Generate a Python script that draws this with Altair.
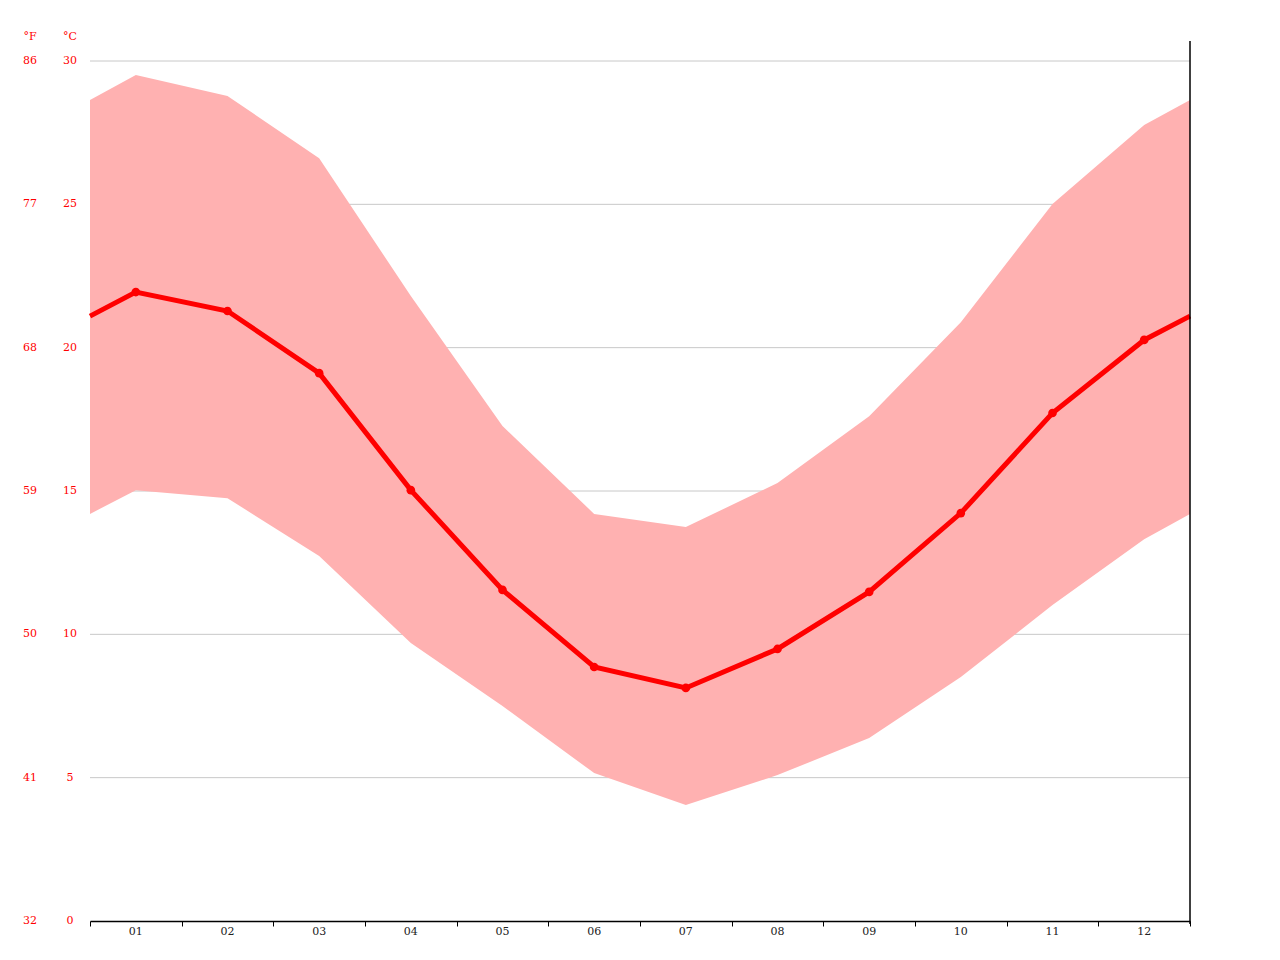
import altair as alt
import pandas as pd

months = list(range(1, 13))
month_labels = ["01", "02", "03", "04", "05", "06", "07", "08", "09", "10", "11", "12"]
t_mean = [21.94, 21.28, 19.11, 15.03, 11.55, 8.86, 8.13, 9.49, 11.48, 14.23, 17.72, 20.27]
t_max = [29.51, 28.78, 26.61, 21.80, 17.27, 14.20, 13.74, 15.28, 17.61, 20.89, 25.01, 27.77]
t_min = [15.03, 14.75, 12.73, 9.70, 7.50, 5.16, 4.05, 5.09, 6.38, 8.51, 11.02, 13.32]
# values read at the year boundary (left and right edges of the plot)
edge_mean, edge_max, edge_min = 21.1, 28.64, 14.2

c_ticks = [0, 5, 10, 15, 20, 25, 30]
f_labels = ["32", "41", "50", "59", "68", "77", "86"]
grid_vals = [5, 10, 15, 20, 25, 30]
boundaries = [m - 0.5 for m in months] + [12.5]

W, H = 1100, 860
FONT = "DejaVu Serif"

xs = [0.5] + months + [12.5]
band = pd.DataFrame({
    "x": xs,
    "mean": [edge_mean] + t_mean + [edge_mean],
    "hi": [edge_max] + t_max + [edge_max],
    "lo": [edge_min] + t_min + [edge_min],
})
pts = pd.DataFrame({"x": months, "mean": t_mean, "label": month_labels})
ylab = pd.DataFrame({"c": c_ticks, "cl": [str(v) for v in c_ticks], "fl": f_labels})
grid = pd.DataFrame({"c": grid_vals})

xscale = alt.Scale(domain=[0.5, 12.5], nice=False, zero=False)
yscale = alt.Scale(domain=[0, 30], nice=False)

gridlines = alt.Chart(grid).mark_rule(color="#c8c8c8", strokeWidth=1).encode(
    y=alt.Y("c:Q", scale=yscale, axis=None),
    x=alt.value(0), x2=alt.value(W),
)

area = alt.Chart(band).mark_area(color="#ffb1b1", opacity=1).encode(
    x=alt.X("x:Q", scale=xscale,
            axis=alt.Axis(values=boundaries, labels=False, ticks=True, tickSize=5,
                          tickColor="black", domainColor="black", domainWidth=1.5,
                          grid=False, title=None)),
    y=alt.Y("lo:Q", scale=yscale, axis=None),
    y2="hi:Q",
)

line = alt.Chart(band).mark_line(color="#ff0000", strokeWidth=5).encode(
    x=alt.X("x:Q", scale=xscale),
    y=alt.Y("mean:Q", scale=yscale),
)

points = alt.Chart(pts).mark_point(filled=True, color="#ff0000", size=75, opacity=1).encode(
    x=alt.X("x:Q", scale=xscale),
    y=alt.Y("mean:Q", scale=yscale),
)

xlabels = alt.Chart(pts).mark_text(font=FONT, fontSize=11, color="#222222", baseline="middle").encode(
    x=alt.X("x:Q", scale=xscale),
    y=alt.value(H + 11),
    text="label:N",
)

clabels = alt.Chart(ylab).mark_text(font=FONT, fontSize=11, color="#ff0000", baseline="middle",
                                    align="center").encode(
    y=alt.Y("c:Q", scale=yscale),
    x=alt.value(-20),
    text="cl:N",
)
flabels = alt.Chart(ylab).mark_text(font=FONT, fontSize=11, color="#ff0000", baseline="middle",
                                    align="center").encode(
    y=alt.Y("c:Q", scale=yscale),
    x=alt.value(-60),
    text="fl:N",
)

units = pd.DataFrame({"u": ["°F", "°C"], "px": [-60, -20]})
unit_text = alt.Chart(units).mark_text(font=FONT, fontSize=11, color="#ff0000", baseline="middle",
                                       align="center").encode(
    x=alt.X("px:Q", scale=None),
    y=alt.value(-24),
    text="u:N",
)

right_rule = alt.Chart(pd.DataFrame({"b": [12.5]})).mark_rule(color="black", strokeWidth=1.5).encode(
    x=alt.X("b:Q", scale=xscale),
    y=alt.value(-20), y2=alt.value(H + 3),
)

chart = alt.layer(
    gridlines, area, line, points, xlabels, clabels, flabels, unit_text, right_rule
).properties(
    width=W, height=H,
    autosize=alt.AutoSizeParams(type="none"),
    padding={"left": 82, "top": 53, "right": 70, "bottom": 19},
).configure_view(stroke=None).configure_axis(labelFont=FONT)

chart.save("out.html", embed_options={"renderer": "svg", "actions": False})
